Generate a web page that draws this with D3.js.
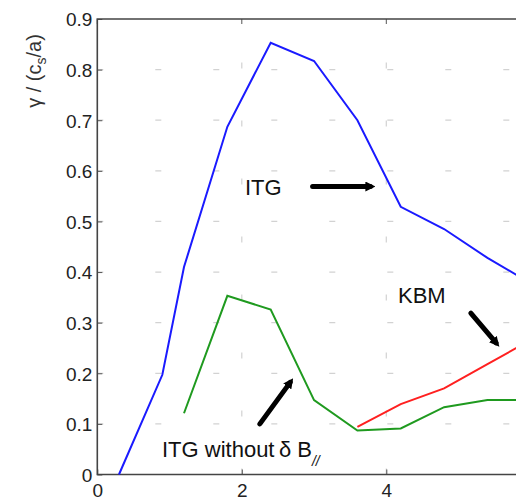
<!DOCTYPE html>
<html>
<head>
<meta charset="utf-8">
<script src="https://cdn.jsdelivr.net/npm/d3@7/dist/d3.min.js"></script>
<style>
  body { margin: 0; background: #fff; }
  svg { display: block; font-family: 'Liberation Sans', Arial, sans-serif; }
</style>
</head>
<body>
<div id="chart"></div>
<script>
// Growth rate vs k
var kx = [0.3, 0.9, 1.2, 1.8, 2.4, 3.0, 3.6, 4.2, 4.8, 5.4, 6.0];
var itg = [0, 0.197, 0.41, 0.687, 0.853, 0.817, 0.70, 0.529, 0.485, 0.428, 0.378];
var kxNoB = [1.2, 1.8, 2.4, 3.0, 3.6, 4.2, 4.8, 5.4, 6.0];
var itgNoB = [0.121, 0.353, 0.326, 0.147, 0.087, 0.091, 0.133, 0.147, 0.147];
var kxKbm = [3.6, 4.2, 4.8, 5.4, 6.0];
var kbm = [0.094, 0.139, 0.170, 0.218, 0.266];
var xTicks = [0, 2, 4];
var yTicks = [0, 0.1, 0.2, 0.3, 0.4, 0.5, 0.6, 0.7, 0.8, 0.9];

var width = 516, height = 502;
var mLeft = 97.3, mRight = 530.8, mTop = 19, mBottom = 474.5;

var svg = d3.select('#chart').append('svg')
  .attr('width', width)
  .attr('height', height);

var x = d3.scaleLinear().domain([0, 6]).range([mLeft, mRight]);
var y = d3.scaleLinear().domain([0, 0.9]).range([mBottom, mTop]);

// dotted grid (sparse dashes)
var grid = svg.append('g')
  .attr('stroke', '#d2d2d2')
  .attr('stroke-width', 1.2)
  .attr('stroke-dasharray', '6 52');
grid.selectAll('line.h')
  .data(yTicks.slice(1, -1))
  .enter()
  .append('line')
    .attr('class', 'h')
    .attr('x1', mLeft).attr('x2', mRight)
    .attr('y1', d => y(d)).attr('y2', d => y(d));
grid.selectAll('line.v')
  .data(xTicks.slice(1))
  .enter()
  .append('line')
    .attr('class', 'v')
    .attr('x1', d => x(d)).attr('x2', d => x(d))
    .attr('y1', mBottom).attr('y2', mTop);

// axes
var xAxis = d3.axisBottom(x).tickValues(xTicks).tickSize(-5).tickPadding(13)
  .tickFormat(d3.format('d'));
var yAxis = d3.axisLeft(y).tickValues(yTicks).tickSize(-5).tickPadding(5)
  .tickFormat(d => d === 0 ? '0' : d3.format('.1f')(d));

var gx = svg.append('g')
  .attr('transform', `translate(0, ${mBottom})`)
  .call(xAxis);
var gy = svg.append('g')
  .attr('transform', `translate(${mLeft}, 0)`)
  .call(yAxis);
[gx, gy].forEach(function(g) {
  g.select('.domain').remove();
  g.selectAll('line').attr('stroke', '#555').attr('stroke-width', 1);
  g.selectAll('text')
    .attr('fill', '#222')
    .style('font-size', '19px')
    .style('font-family', "'Liberation Sans', Arial, sans-serif");
});
gx.selectAll('text').attr('dy', '0.5em');
gy.selectAll('text').attr('dy', '0.36em');

// top ticks
svg.append('g')
  .selectAll('line')
  .data(xTicks)
  .enter()
  .append('line')
    .attr('x1', d => x(d)).attr('x2', d => x(d))
    .attr('y1', mTop).attr('y2', mTop + 5)
    .attr('stroke', '#555');

// box
svg.append('path')
  .attr('d', `M${mRight},${mTop}H${mLeft}V${mBottom}H${mRight}`)
  .attr('fill', 'none')
  .attr('stroke', '#444')
  .attr('stroke-width', 1.6);

// lines
var line = d3.line().x(d => x(d[0])).y(d => y(d[1]));
var series = [
  { xs: kx, ys: itg, color: '#1a1aff' },
  { xs: kxNoB, ys: itgNoB, color: '#1f9a1f' },
  { xs: kxKbm, ys: kbm, color: '#ff2020' }
];
svg.append('g')
  .selectAll('path')
  .data(series)
  .enter()
  .append('path')
    .attr('d', s => line(d3.zip(s.xs, s.ys)))
    .attr('fill', 'none')
    .attr('stroke', s => s.color)
    .attr('stroke-width', 2);

// arrows
svg.append('defs').append('marker')
  .attr('id', 'head')
  .attr('viewBox', '0 0 10 10')
  .attr('refX', 5).attr('refY', 5)
  .attr('markerWidth', 2).attr('markerHeight', 2)
  .attr('orient', 'auto')
  .append('path')
    .attr('d', 'M0,0L10,5L0,10z')
    .attr('fill', '#000');

var arrows = [
  [2.98, 0.569, 3.78, 0.569],
  [5.17, 0.319, 5.52, 0.260],
  [2.25, 0.100, 2.67, 0.182]
];
svg.append('g')
  .selectAll('line')
  .data(arrows)
  .enter()
  .append('line')
    .attr('x1', d => x(d[0])).attr('y1', d => y(d[1]))
    .attr('x2', d => x(d[2])).attr('y2', d => y(d[3]))
    .attr('stroke', '#000')
    .attr('stroke-width', 5)
    .attr('stroke-linecap', 'round')
    .attr('marker-end', 'url(#head)');

// labels
var ann = svg.append('g')
  .attr('fill', '#111')
  .style('font-size', '22px');
ann.append('text').attr('x', 245).attr('y', 195).text('ITG');
ann.append('text').attr('x', 398).attr('y', 303).text('KBM');
var t = ann.append('text').attr('x', 162).attr('y', 457);
t.append('tspan').text('ITG without\u2009\u03b4 B');
t.append('tspan').attr('dy', 9).style('font-size', '14px').style('font-style', 'italic').text('//');

// y label
var yl = svg.append('text')
  .attr('transform', 'translate(41, 71) rotate(-90)')
  .attr('text-anchor', 'middle')
  .attr('fill', '#333')
  .style('font-size', '20px');
yl.append('tspan').text('\u03b3 / (c');
yl.append('tspan').attr('dy', 5).style('font-size', '14px').text('s');
yl.append('tspan').attr('dy', -5).text('/a)');
</script>
</body>
</html>
